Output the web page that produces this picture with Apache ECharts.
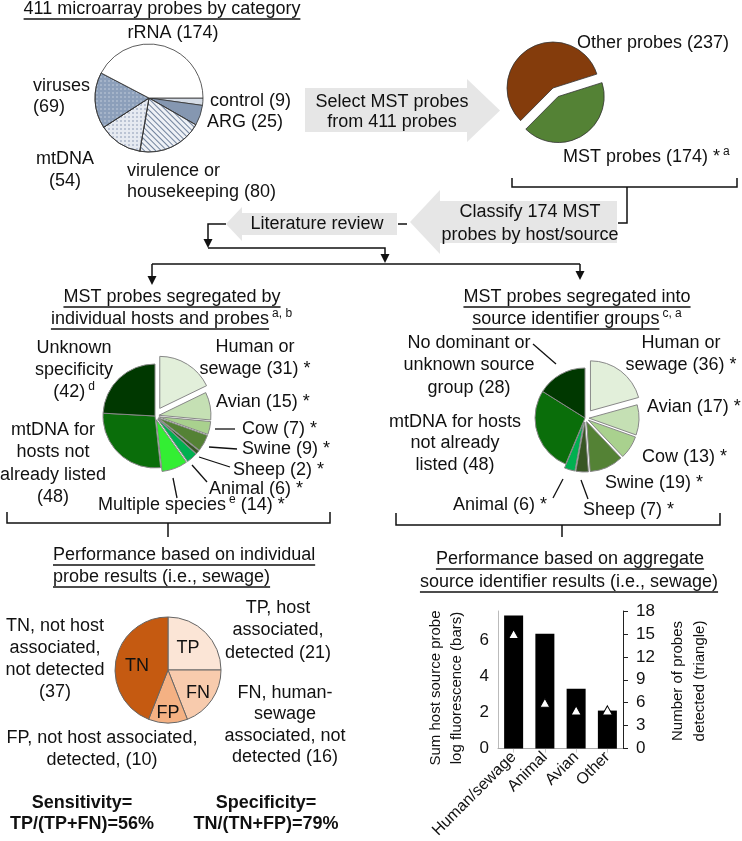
<!DOCTYPE html>
<html><head><meta charset="utf-8">
<script src="https://cdn.jsdelivr.net/npm/echarts@6/dist/echarts.min.js"></script>
<style>html,body{margin:0;padding:0;background:#fff}#c{width:742px;height:841px}</style>
</head><body><div id="c"></div>
<script>
// ---------------- DATA ----------------
const catNames = ['control', 'ARG', 'virulence or housekeeping', 'mtDNA', 'viruses', 'rRNA'];
const catValues = [9, 25, 80, 54, 69, 174];
const catLabels = ['control ({v})', 'ARG ({v})', 'virulence or\nhousekeeping ({v})', 'mtDNA\n({v})', 'viruses\n({v})', 'rRNA ({v})'];

const mstNames = ['MST probes', 'Other probes'];
const mstValues = [174, 237];
const mstLabels = ['MST probes ({v}) * ^a', 'Other probes ({v})'];

const hostNames = ['Human or sewage', 'Avian', 'Cow', 'Swine', 'Sheep', 'Animal', 'Multiple species', 'mtDNA for hosts not already listed', 'Unknown specificity'];
const hostValues = [31, 15, 7, 9, 2, 6, 14, 48, 42];
const hostLabels = ['Human or\nsewage ({v}) *', 'Avian ({v}) *', 'Cow ({v}) *', 'Swine ({v}) *', 'Sheep ({v}) *', 'Animal ({v}) *', 'Multiple species ^e ({v}) *', 'mtDNA for\nhosts not\nalready listed\n({v})', 'Unknown\nspecificity\n({v}) ^d'];

const srcNames = ['Human or sewage', 'Avian', 'Cow', 'Swine', 'Sheep', 'Animal', 'mtDNA for hosts not already listed', 'No dominant or unknown source group'];
const srcValues = [36, 17, 13, 19, 7, 6, 48, 28];
const srcLabels = ['Human or\nsewage ({v}) *', 'Avian ({v}) *', 'Cow ({v}) *', 'Swine ({v}) *', 'Sheep ({v}) *', 'Animal ({v}) *', 'mtDNA for hosts\nnot already\nlisted ({v})', 'No dominant or\nunknown source\ngroup ({v})'];

const perfNames = ['TP', 'FN', 'FP', 'TN'];
const perfValues = [21, 16, 10, 37];
const perfLabels = ['TP, host\nassociated,\ndetected ({v})', 'FN, human-\nsewage\nassociated, not\ndetected ({v})', 'FP, not host associated,\ndetected, ({v})', 'TN, not host\nassociated,\nnot detected\n({v})'];

const barCats = ['Human/sewage', 'Animal', 'Avian', 'Other'];
const barValues = [7.35, 6.35, 3.3, 2.1];
const triValues = [15, 6, 5, 5];
const leftTicks = [0, 2, 4, 6];
const rightTicks = [0, 3, 6, 9, 12, 15, 18];

// ---------------- LAYOUT / STYLE ----------------
const FONT = '"Liberation Sans", Arial, Helvetica, sans-serif';
const INK = '#111';
const cv = document.createElement('canvas').getContext('2d');
function tw(t, size, bold) { cv.font = (bold ? 'bold ' : '') + size + 'px ' + FONT; return cv.measureText(t).width; }
const G = [];
function txt(x, y, t, o = {}) {
  const al = o.align || 'left';
  G.push({ type: 'text', x, y, z: 20, silent: true, rotation: o.rot || 0,
    style: { text: t, fontSize: o.size || 18, fontFamily: FONT, fontWeight: o.bold ? 'bold' : 'normal', fill: o.color || INK,
      align: al, verticalAlign: 'middle', textAlign: al, textVerticalAlign: 'middle', lineHeight: o.lh || 22 } });
}
function line(pts, o = {}) {
  G.push({ type: 'polyline', z: 15, silent: true, shape: { points: pts }, style: { stroke: o.color || INK, lineWidth: o.w || 1.5, fill: 'none' } });
}
function poly(pts, fill, z) { G.push({ type: 'polygon', z: z || 5, silent: true, shape: { points: pts }, style: { fill } }); }
function down(x, y) { poly([[x - 4.5, y - 9], [x + 4.5, y - 9], [x, y]], INK, 15); }
function parseLine(s) {
  const parts = []; const re = /\^\{([^}]*)\}|\^(\S+)/g; let last = 0, m;
  while ((m = re.exec(s))) {
    if (m.index > last) parts.push(s.slice(last, m.index).replace(/\s+$/, ''));
    parts.push({ s: m[1] || m[2] }); last = re.lastIndex;
  }
  if (last < s.length) parts.push(s.slice(last));
  return parts;
}
function seq(x, y, str, align, o = {}) {
  const parts = parseLine(str);
  const size = o.size || 18;
  const ws = parts.map(p => typeof p === 'string' ? tw(p, size, o.bold) : tw(p.s, 12) + 3);
  const total = ws.reduce((a, b) => a + b, 0);
  let cx = align === 'center' ? x - total / 2 : x;
  parts.forEach((p, i) => {
    if (typeof p === 'string') {
      txt(cx, y, p, { size, bold: o.bold });
      if (o.ul && i === 0) line([[cx, y + 10], [cx + ws[i], y + 10]], { w: 1.3 });
    } else {
      txt(cx + 3, y - 5, p.s, { size: 12 });
    }
    cx += ws[i];
  });
}
function block(x, yc, str, align, lh, o = {}) {
  const lines = str.split('\n');
  lines.forEach((ln, i) => seq(x, yc + (i - (lines.length - 1) / 2) * lh, ln, align, o));
}
function labels(tmpls, values, pos) {
  tmpls.forEach((t, i) => { const p = pos[i]; block(p[0], p[1], t.replace('{v}', values[i]), p[2], p[3] || 22, p[4] || {}); });
}

// label positions (x, y-center, align, line height)
const catPos = [[210, 101, 'left'], [207, 122, 'left'], [127, 182, 'left', 21], [65, 170, 'center', 22], [33, 96.5, 'left', 21], [173, 33, 'center']];
const mstPos = [[563, 157, 'left'], [577, 43, 'left']];
const hostPos = [[255, 358, 'center'], [216, 402, 'left'], [242, 429, 'left'], [242, 449, 'left'], [233, 470, 'left'], [209, 489, 'left'], [98, 505, 'left'], [53, 463.5, 'center', 22.3], [74, 370, 'center']];
const hostLead = [null, null, [[215, 429], [235, 429]], [[209, 447], [237, 449]], [[199, 457], [230, 467]], [[192, 465], [207, 482]], [[173, 478], [177, 498]], null, null];
const srcPos = [[681, 354.5, 'center'], [647, 407, 'left'], [642, 457, 'left'], [605, 483, 'left'], [583, 510, 'left'], [453, 505, 'left'], [455, 443.5, 'center', 21.5], [469, 365.5, 'center', 22.5]];
const srcLead = [null, null, null, null, [[581, 480], [588, 499]], [[563, 479], [553, 498]], null, [[533, 344], [556, 364]]];
const perfPos = [[278, 630.5, 'center', 22.5], [285, 725, 'center', 21.3], [102, 749, 'center', 22], [55, 659, 'center', 22]];
const perfInner = [[188, 648], [198, 693], [168, 713], [137, 666]];

// ---------------- GRAPHIC: arrows, connectors, titles ----------------
const GREY = '#e6e6e6';
// Select MST arrow (right)
poly([[305, 88], [467, 88], [467, 79], [500, 110.5], [467, 142], [467, 132], [305, 132]], GREY, 1);
block(392, 112.5, 'Select MST probes\nfrom 411 probes', 'center', 20);
// Classify arrow (left)
poly([[617, 201], [440, 201], [440, 190], [410, 222], [440, 254], [440, 243], [617, 243]], GREY, 1);
block(530, 223.5, 'Classify 174 MST\nprobes by host/source', 'center', 23);
// Literature review arrow (left)
poly([[397, 213], [242, 213], [242, 207], [226, 224], [242, 241], [242, 235], [397, 235]], GREY, 1);
seq(317, 224, 'Literature review', 'center');
line([[398, 224], [407, 224]]);
// top-right bracket
line([[512, 178], [512, 187], [737, 187], [737, 178]]);
line([[627, 187], [627, 223], [618, 223]]);
// flow lines
line([[226, 224], [208, 224], [208, 240]]); down(208, 248);
line([[208, 248], [385, 248], [385, 255]]); down(385, 263);
line([[152, 264], [580, 264]]);
line([[152, 264], [152, 277]]); down(152, 285);
line([[580, 264], [580, 272]]); down(580, 280);
// mid brackets
line([[7, 512], [7, 523], [330, 523], [330, 512]]);
line([[168, 523], [168, 537]]);
line([[396, 513], [396, 525], [720, 525], [720, 513]]);
line([[562, 525], [562, 537]]);

// titles
seq(162, 9, '411 microarray probes by category', 'center', { ul: true });
seq(172, 297, 'MST probes segregated by', 'center', { ul: true });
seq(171.5, 319, 'individual hosts and probes ^{a, b}', 'center', { ul: true });
seq(577, 297, 'MST probes segregated into', 'center', { ul: true });
seq(577, 319, 'source identifier groups ^{c, a}', 'center', { ul: true });
seq(53, 555, 'Performance based on individual', 'left', { ul: true });
seq(53, 577, 'probe results (i.e., sewage)', 'left', { ul: true });
seq(570, 559, 'Performance based on aggregate', 'center', { ul: true });
seq(569, 582, 'source identifier results (i.e., sewage)', 'center', { ul: true });

// pie labels
labels(catLabels, catValues, catPos);
labels(mstLabels, mstValues, mstPos);
labels(hostLabels, hostValues, hostPos);
hostLead.forEach(p => p && line(p, { w: 1.3 }));
labels(srcLabels, srcValues, srcPos);
srcLead.forEach(p => p && line(p, { w: 1.3 }));
labels(perfLabels, perfValues, perfPos);
perfNames.forEach((n, i) => txt(perfInner[i][0], perfInner[i][1], n, { align: 'center' }));

// summary
block(82, 813.5, 'Sensitivity=\nTP/(TP+FN)=56%', 'center', 21, { bold: true });
block(266, 813.5, 'Specificity=\nTN/(TN+FP)=79%', 'center', 21, { bold: true });

// bar chart axis names
txt(446.5, 688, 'Sum host source probe\nlog fluorescence (bars)', { rot: Math.PI / 2, align: 'center', size: 15, lh: 21 });
txt(689, 681, 'Number of probes\ndetected (triangle)', { rot: Math.PI / 2, align: 'center', size: 15, lh: 22 });

// ---------------- PIES ----------------
const stripe = { symbol: 'rect', symbolSize: 1, dashArrayX: [1, 0], dashArrayY: [1, 3], rotation: Math.PI / 4, color: 'rgba(90,110,140,0.85)' };
const dotsDark = { symbol: 'circle', symbolSize: 0.8, dashArrayX: [2, 2], dashArrayY: [2, 2], color: 'rgba(110,130,160,0.8)' };
const dotsLight = { symbol: 'circle', symbolSize: 0.8, dashArrayX: [2, 2], dashArrayY: [2, 2], color: 'rgba(255,255,255,0.5)' };

const catColors = ['#d5dce6', '#8597b1', '#eef1f6', '#e6eaf1', '#8c9fba', '#ffffff'];
const catDecals = [null, null, stripe, dotsDark, dotsLight, null];
const mstColors = ['#548235', '#843c0c'];
const hostColors = ['#e2efda', '#c5e0b4', '#a9d18e', '#548235', '#375623', '#00b050', '#33ee33', '#0a6e0a', '#003800'];
const srcColors = ['#e2efda', '#c5e0b4', '#a9d18e', '#548235', '#375623', '#00b050', '#0a6e0a', '#003800'];
const perfColors = ['#fbe5d6', '#f8cbad', '#f4b183', '#c55a11'];

function pie(names, values, colors, o) {
  return {
    type: 'pie', center: o.c, radius: o.r, startAngle: o.start, clockwise: true, silent: true,
    selectedMode: 'multiple', selectedOffset: o.off || 0, label: { show: false }, labelLine: { show: false },
    emphasis: { disabled: true }, avoidLabelOverlap: false, z: o.z || 2,
    data: names.map((n, i) => {
      const st = { color: colors[i], borderColor: o.bc || '#888', borderWidth: o.bw == null ? 1 : o.bw };
      if (o.decals && o.decals[i]) st.decal = o.decals[i];
      if (o.hide && o.hide.includes(i)) { st.opacity = 0; st.borderWidth = 0; }
      return { name: n, value: values[i], selected: o.sel ? o.sel.includes(i) : false, itemStyle: st };
    })
  };
}
const series = [
  pie(catNames, catValues, catColors, { c: [149, 98], r: 54, start: 0, bc: '#333', bw: 0.8, decals: catDecals }),
  pie(mstNames, mstValues, mstColors, { c: [553, 88], r: 46, start: 17.6, bc: '#333', bw: 0.8, sel: [0], off: 10 }),
  pie(hostNames, hostValues, hostColors, { c: [155, 416], r: 52, start: 90, sel: [1, 2, 3, 4, 5, 6], off: 4, hide: [0] }),
  pie(hostNames, hostValues, hostColors, { c: [155, 416], r: 52, start: 90, sel: [0], off: 9, hide: [1, 2, 3, 4, 5, 6, 7, 8], z: 3 }),
  pie(srcNames, srcValues, srcColors, { c: [585, 418], r: 50, start: 90, sel: [1, 2, 3, 4, 5], off: 4, hide: [0] }),
  pie(srcNames, srcValues, srcColors, { c: [585, 418], r: 50, start: 90, sel: [0], off: 9, hide: [1, 2, 3, 4, 5, 6, 7], z: 3 }),
  pie(perfNames, perfValues, perfColors, { c: [168, 670], r: 53, start: 90, bc: '#666', bw: 1 }),
  { type: 'bar', xAxisIndex: 0, yAxisIndex: 0, data: barValues, barWidth: 19, itemStyle: { color: '#000' }, silent: true, z: 2 },
  { type: 'scatter', xAxisIndex: 0, yAxisIndex: 1, data: triValues, symbol: 'triangle', symbolSize: [10, 9],
    itemStyle: { color: '#fff', borderColor: '#000', borderWidth: 1, opacity: 1 }, silent: true, z: 4 }
];

const chart = echarts.init(document.getElementById('c'), null, { renderer: 'canvas' });
chart.setOption({
  animation: false,
  backgroundColor: '#fff',
  textStyle: { fontFamily: FONT },
  grid: [{ left: 498, top: 611, width: 125, height: 139 }],
  xAxis: [{ type: 'category', data: barCats, gridIndex: 0,
    axisLine: { lineStyle: { color: '#aaa' } },
    axisTick: { show: true, alignWithLabel: true, length: 4, lineStyle: { color: '#ccc' } },
    axisLabel: { rotate: 45, fontSize: 16, color: INK, fontFamily: FONT, margin: 6, interval: 0 } }],
  yAxis: [
    { type: 'value', gridIndex: 0, min: leftTicks[0], max: 7.6, interval: leftTicks[1] - leftTicks[0],
      axisLine: { show: true, lineStyle: { color: '#bbb' } }, axisTick: { show: false }, splitLine: { show: false },
      axisLabel: { fontSize: 17, color: INK, fontFamily: FONT, margin: 9, showMaxLabel: false } },
    { type: 'value', gridIndex: 0, position: 'right', min: rightTicks[0], max: rightTicks[rightTicks.length - 1], interval: rightTicks[1] - rightTicks[0],
      axisLine: { show: true, lineStyle: { color: '#222' } }, axisTick: { show: true, length: 5, lineStyle: { color: '#222' } },
      splitLine: { show: false }, axisLabel: { fontSize: 17, color: INK, fontFamily: FONT, margin: 13 } }
  ],
  series,
  graphic: { elements: G }
});
</script>
</body></html>
